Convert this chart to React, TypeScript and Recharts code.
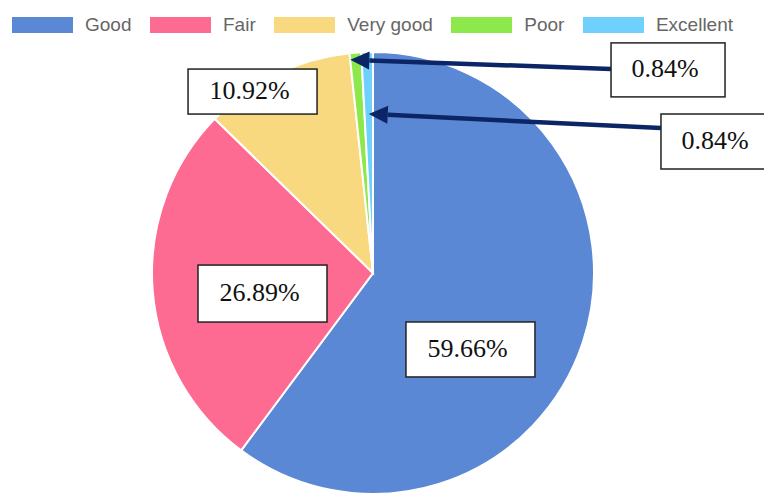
import { PieChart, Pie, Cell, Legend } from 'recharts';

const CATEGORIES = ['Good', 'Fair', 'Very good', 'Poor', 'Excellent'];
const SHARES = [59.66, 26.89, 10.92, 0.84, 0.84];
const COLORS = ['#5b88d4', '#fe6b92', '#f9d97f', '#8de84c', '#6fd0fc'];

// label box placement, offsets in units of the pie radius
const LABEL_LAYOUT = [
  { dx: 0.441, dy: 0.346, w: 129, h: 55 },
  { dx: -0.5, dy: 0.093, w: 129, h: 57 },
  { dx: -0.545, dy: -0.821, w: 129, h: 45 },
  { dx: 1.335, dy: -0.919, w: 114, h: 54, tipR: 0.97, tipDa: 1.5, attachDy: -1 },
  { dx: 1.561, dy: -0.595, w: 114, h: 55, tipR: 0.72, tipDa: 0, attachDy: -13.5 },
];

const data = CATEGORIES.map((name, i) => ({ name, value: SHARES[i] }));

const RAD = Math.PI / 180;
const ARROW = '#0c2566';

const renderLabel = (props: any) => {
  const { cx, cy, midAngle, outerRadius, index } = props;
  const layout = LABEL_LAYOUT[index];
  const bx = cx + layout.dx * outerRadius;
  const by = cy + layout.dy * outerRadius;
  const left = bx - layout.w / 2;
  const top = by - layout.h / 2;
  let arrow = null;
  if (layout.tipR !== undefined) {
    const a = (midAngle + (layout.tipDa || 0)) * RAD;
    const tx = cx + layout.tipR * outerRadius * Math.cos(-a);
    const ty = cy + layout.tipR * outerRadius * Math.sin(-a);
    const sx = left;
    const sy = by + (layout.attachDy || 0);
    const len = Math.hypot(tx - sx, ty - sy);
    const ux = (tx - sx) / len;
    const uy = (ty - sy) / len;
    const baseX = tx - ux * 19;
    const baseY = ty - uy * 19;
    const nx = -uy;
    const ny = ux;
    arrow = (
      <g>
        <line x1={sx} y1={sy} x2={baseX} y2={baseY} stroke={ARROW} strokeWidth={4.5} />
        <polygon
          points={`${tx},${ty} ${baseX + nx * 9},${baseY + ny * 9} ${baseX - nx * 9},${baseY - ny * 9}`}
          fill={ARROW}
        />
      </g>
    );
  }
  return (
    <g key={`lbl-${index}`}>
      {arrow}
      <rect x={left} y={top} width={layout.w} height={layout.h} fill="#fff" stroke="#222" strokeWidth={1.5} />
      <text
        x={bx - 3}
        y={by - 1}
        textAnchor="middle"
        dominantBaseline="central"
        fontFamily="'Liberation Serif', 'Times New Roman', serif"
        fontSize={26}
        fill="#111"
      >
        {SHARES[index].toFixed(2)}%
      </text>
    </g>
  );
};

const renderLegend = (props: any) => {
  const items = [...(props.payload || [])].sort(
    (a: any, b: any) => CATEGORIES.indexOf(a.value) - CATEGORIES.indexOf(b.value)
  );
  // zero-height wrapper so the legend doesn't push the pie down
  return (
    <div style={{ position: 'relative', height: 0 }}>
      <div style={{ position: 'absolute', left: 12, top: 14, display: 'flex', alignItems: 'center', whiteSpace: 'nowrap' }}>
        {items.map((entry: any, i: number) => (
          <div key={`leg-${i}`} style={{ display: 'flex', alignItems: 'center', marginRight: 18.5 }}>
            <span style={{ display: 'inline-block', width: 61, height: 16, background: entry.color, marginRight: 12 }} />
            <span style={{ fontFamily: "'Liberation Sans', Arial, sans-serif", fontSize: 19, color: '#666' }}>
              {entry.value}
            </span>
          </div>
        ))}
      </div>
    </div>
  );
};

export default function App() {
  return (
    <div style={{ position: 'absolute', left: 0, top: 0, width: 764, height: 495, background: '#fff', overflow: 'hidden' }}>
      <PieChart width={764} height={495} margin={{ top: 0, right: 0, bottom: 0, left: 0 }}>
        <Legend
          verticalAlign="top"
          align="left"
          content={renderLegend}
          wrapperStyle={{ top: 0, left: 0, width: 764, height: 0 }}
        />
        <Pie
          data={data}
          dataKey="value"
          nameKey="name"
          cx={373}
          cy={273}
          outerRadius={221}
          startAngle={90}
          endAngle={-270}
          stroke="#fff"
          strokeWidth={2}
          label={renderLabel}
          labelLine={false}
          isAnimationActive={false}
        >
          {data.map((entry, i) => (
            <Cell key={`cell-${i}`} fill={COLORS[i]} />
          ))}
        </Pie>
      </PieChart>
    </div>
  );
}
